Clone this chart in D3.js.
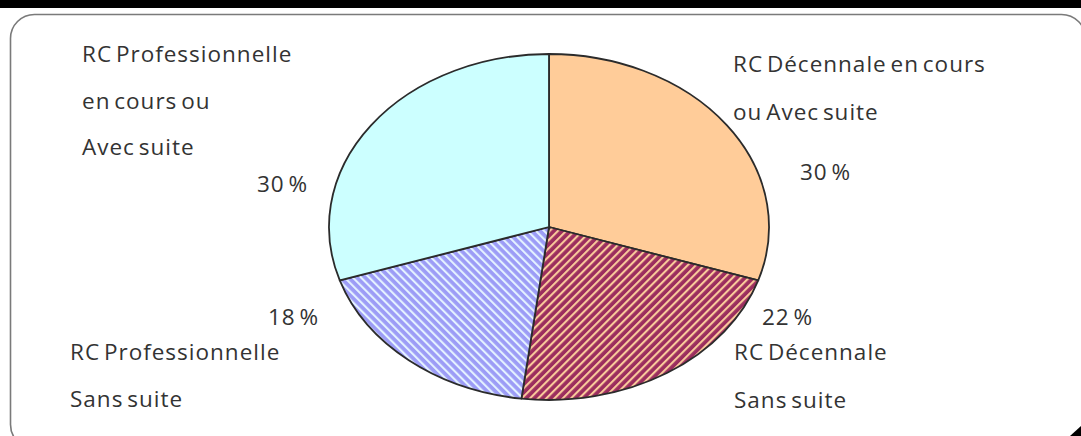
<!DOCTYPE html>
<html>
<head>
<meta charset="utf-8">
<script src="https://cdn.jsdelivr.net/npm/d3@7"></script>
<style>
  html, body { margin: 0; padding: 0; background: #fff; }
  svg { display: block; }
  .lbl {
    font-family: "Open Sans", "DejaVu Sans", sans-serif;
    font-size: 22.5px;
    letter-spacing: 1px;
    word-spacing: -3px;
    fill: #333;
  }
</style>
</head>
<body>
<svg id="chart" width="1081" height="436"></svg>
<script>
// Slice values (percent), clockwise from 12 o'clock
const categories = [
  "RC Décennale en cours ou Avec suite",
  "RC Décennale Sans suite",
  "RC Professionnelle Sans suite",
  "RC Professionnelle en cours ou Avec suite"
];
const values = [30, 22, 18, 30];
const nameLines = [
  ["RC Décennale en cours", "ou Avec suite"],
  ["RC Décennale", "Sans suite"],
  ["RC Professionnelle", "Sans suite"],
  ["RC Professionnelle", "en cours ou", "Avec suite"]
];
const percentLabels = values.map(v => v + " %");

// Layout and style
const W = 1081, H = 436;
const cx = 549, cy = 227, rx = 220, ry = 173;
const fills = ["#FFCC99", "url(#hatchRed)", "url(#hatchBlue)", "#CCFFFF"];
const nameLayout = [
  { x: 733, y: 72, dy: 48 },
  { x: 734, y: 360, dy: 48 },
  { x: 70, y: 360, dy: 47 },
  { x: 82, y: 62, dy: 46.5 }
];
const pctLayout = [
  { x: 800, y: 180 },
  { x: 762, y: 325 },
  { x: 268, y: 325 },
  { x: 257, y: 192 }
];

const svg = d3.select("#chart");

// Black strip along the top and the framed panel
svg.append("rect").attr("x", 0).attr("y", 0).attr("width", W).attr("height", 8).attr("fill", "#000");
svg.append("path")
  .attr("d", `M1070,436 L1081,426 L1081,436 Z`)
  .attr("fill", "#000");
svg.append("rect")
  .attr("x", 10.5).attr("y", 14.5)
  .attr("width", 1075).attr("height", 434)
  .attr("rx", 24).attr("ry", 24)
  .attr("fill", "none")
  .attr("stroke", "#7a7a7a")
  .attr("stroke-width", 1.6);

// Hatch patterns
const defs = svg.append("defs");
function hatch(id, base, stripe, angle, period, stripeW) {
  const p = defs.append("pattern")
    .attr("id", id)
    .attr("patternUnits", "userSpaceOnUse")
    .attr("width", period).attr("height", period)
    .attr("patternTransform", `rotate(${angle})`);
  p.append("rect").attr("width", period).attr("height", period).attr("fill", base);
  p.append("rect").attr("width", stripeW).attr("height", period).attr("fill", stripe);
}
hatch("hatchRed", "#9B2D5E", "#F9C99A", 45, 5.8, 2.1);
hatch("hatchBlue", "#9C9CF6", "#E4F2FF", -45, 5.8, 2.1);

// Elliptical pie built from the pie layout's angles
const pie = d3.pie().sort(null).value(d => d);
const arcs = pie(values);

function wedge(a0, a1) {
  const x0 = cx + rx * Math.sin(a0), y0 = cy - ry * Math.cos(a0);
  const x1 = cx + rx * Math.sin(a1), y1 = cy - ry * Math.cos(a1);
  const large = (a1 - a0) > Math.PI ? 1 : 0;
  return `M${cx},${cy}L${x0},${y0}A${rx},${ry} 0 ${large} 1 ${x1},${y1}Z`;
}

svg.append("g")
  .selectAll("path")
  .data(arcs)
  .join("path")
  .attr("d", d => wedge(d.startAngle, d.endAngle))
  .attr("fill", (d, i) => fills[i])
  .attr("stroke", "#2b2b2b")
  .attr("stroke-width", 1.8)
  .attr("stroke-linejoin", "round");

// Category names
const names = svg.append("g");
nameLines.forEach((lines, i) => {
  const L = nameLayout[i];
  lines.forEach((t, j) => {
    names.append("text")
      .attr("class", "lbl")
      .attr("x", L.x)
      .attr("y", L.y + j * L.dy)
      .text(t);
  });
});

// Percent labels
svg.append("g")
  .selectAll("text")
  .data(percentLabels)
  .join("text")
  .attr("class", "lbl")
  .attr("x", (d, i) => pctLayout[i].x)
  .attr("y", (d, i) => pctLayout[i].y)
  .text(d => d);
</script>
</body>
</html>
